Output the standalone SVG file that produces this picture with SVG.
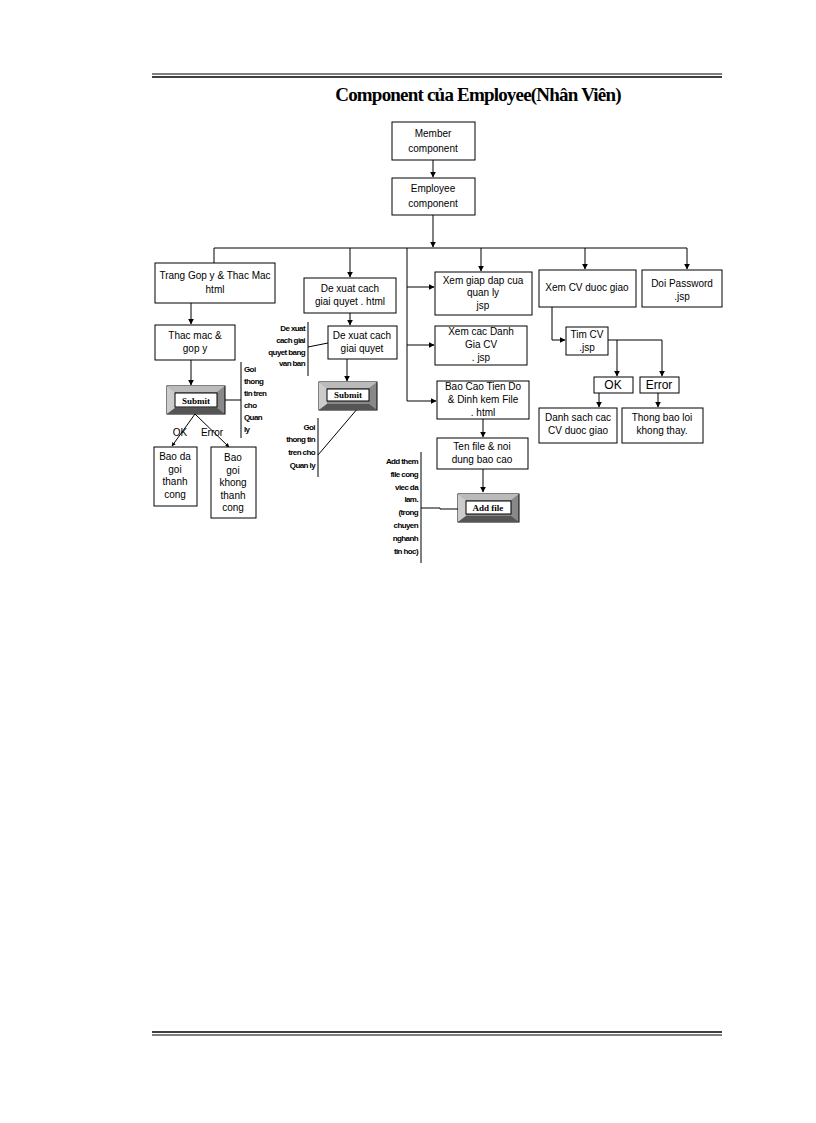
<svg xmlns="http://www.w3.org/2000/svg" width="816" height="1123" viewBox="0 0 816 1123">
<defs>
<marker id="a" viewBox="0 0 10 10" refX="9" refY="5" markerWidth="6" markerHeight="6" orient="auto"><path d="M0,0L10,5L0,10z" fill="#000"/></marker>
<marker id="b" viewBox="0 0 10 10" refX="9" refY="5" markerWidth="4" markerHeight="4" orient="auto"><path d="M0,0L10,5L0,10z" fill="#000"/></marker>
</defs>
<style>
.n rect{fill:#fff;stroke:#000;stroke-width:1}
text{font-family:"Liberation Sans",Arial,sans-serif;font-size:10px;text-anchor:middle;fill:#000}
.s{font-size:8px;font-weight:bold;letter-spacing:-0.6px}
.l{text-anchor:start}
.r{text-anchor:end}
.c line,.c path{stroke:#000;stroke-width:1;fill:none}
.btn text{font-family:"Liberation Serif",serif;font-weight:bold;font-size:9px}
</style>
<rect width="816" height="1123" fill="#fff"/>
<line x1="152" y1="74" x2="722" y2="74" stroke="#000"/><line x1="152" y1="77" x2="722" y2="77" stroke="#000" stroke-width="1.5"/>
<line x1="152" y1="1032" x2="722" y2="1032" stroke="#000" stroke-width="1.5"/><line x1="152" y1="1035" x2="722" y2="1035" stroke="#000"/>
<text x="478" y="101" style="font-family:'Liberation Serif',serif;font-weight:bold;font-size:19px;letter-spacing:-0.8px">Component của Employee(Nhân Viên)</text>
<g class="c">
<line x1="433" y1="160" x2="433" y2="177" marker-end="url(#a)"/>
<line x1="433" y1="215" x2="433" y2="247" stroke-width="2" marker-end="url(#a)"/>
<line x1="214" y1="248" x2="687" y2="248"/>
<line x1="214" y1="248" x2="214" y2="263"/>
<line x1="350" y1="248" x2="350" y2="277" marker-end="url(#a)"/>
<line x1="407" y1="248" x2="407" y2="401"/>
<line x1="481" y1="248" x2="481" y2="271" marker-end="url(#a)"/>
<line x1="585" y1="248" x2="585" y2="269" marker-end="url(#a)"/>
<line x1="687" y1="248" x2="687" y2="269" marker-end="url(#a)"/>
<line x1="407" y1="287" x2="434" y2="287" marker-end="url(#a)"/>
<line x1="407" y1="345" x2="434" y2="345" marker-end="url(#a)"/>
<line x1="407" y1="401" x2="436" y2="401" marker-end="url(#a)"/>
<line x1="483" y1="419" x2="483" y2="437" marker-end="url(#a)"/>
<line x1="483" y1="469" x2="483" y2="492" marker-end="url(#a)"/>
<path d="M421,508H440V509H458"/>
<line x1="421" y1="452" x2="421" y2="563"/>
<path d="M552,307V340H565" marker-end="url(#a)"/>
<path d="M608,340H662V376" marker-end="url(#a)"/>
<line x1="617" y1="340" x2="617" y2="376" marker-end="url(#a)"/>
<line x1="599" y1="393" x2="599" y2="407" marker-end="url(#a)"/>
<line x1="658" y1="393" x2="658" y2="407" marker-end="url(#a)"/>
<line x1="191" y1="303" x2="191" y2="324" marker-end="url(#a)"/>
<line x1="191" y1="360" x2="191" y2="385" marker-end="url(#a)"/>
<line x1="225" y1="400" x2="241" y2="400"/>
<line x1="241" y1="362" x2="241" y2="438"/>
<line x1="195" y1="414" x2="172" y2="446" marker-end="url(#b)"/>
<line x1="195" y1="414" x2="229" y2="447" marker-end="url(#b)"/>
<line x1="350" y1="313" x2="350" y2="325" marker-end="url(#a)"/>
<line x1="308" y1="322" x2="308" y2="376"/>
<line x1="308" y1="347" x2="328" y2="343"/>
<line x1="347" y1="359" x2="347" y2="381" marker-end="url(#a)"/>
<line x1="364" y1="401" x2="318" y2="455"/>
<line x1="318" y1="418" x2="318" y2="477"/>
</g>
<g id="member" class="n"><rect x="392" y="122" width="83" height="38"/><text x="433" y="137">Member</text><text x="433" y="152">component</text></g>
<g id="employee" class="n"><rect x="392" y="178" width="83" height="37"/><text x="433" y="192">Employee</text><text x="433" y="207">component</text></g>
<g id="trang" class="n"><rect x="155" y="263" width="120" height="40"/><text x="215" y="279">Trang Gop y &amp; Thac Mac</text><text x="215" y="293">html</text></g>
<g id="dexuat1" class="n"><rect x="304" y="278" width="92" height="35"/><text x="350" y="292">De xuat cach</text><text x="350" y="305">giai quyet . html</text></g>
<g id="xemgiap" class="n"><rect x="435" y="272" width="97" height="43"/><text x="483" y="284">Xem giap dap cua</text><text x="483" y="296">quan ly</text><text x="483" y="309">jsp</text></g>
<g id="xemcv" class="n"><rect x="539" y="270" width="97" height="37"/><text x="587" y="291">Xem CV duoc giao</text></g>
<g id="doipw" class="n"><rect x="642" y="270" width="80" height="37"/><text x="682" y="287">Doi Password</text><text x="682" y="300">.jsp</text></g>
<g id="xemdanh" class="n"><rect x="435" y="326" width="92" height="39"/><text x="481" y="335">Xem cac Danh</text><text x="481" y="348">Gia CV</text><text x="481" y="361">. jsp</text></g>
<g id="baocao" class="n"><rect x="437" y="381" width="92" height="38"/><text x="483" y="390">Bao Cao Tien  Do</text><text x="483" y="403">&amp; Dinh kem File</text><text x="483" y="416">. html</text></g>
<g id="tenfile" class="n"><rect x="437" y="438" width="91" height="31"/><text x="482" y="450">Ten file &amp; noi</text><text x="482" y="463">dung bao cao</text></g>
<g id="timcv" class="n"><rect x="566" y="327" width="42" height="28"/><text x="587" y="338">Tim CV</text><text x="587" y="351">.jsp</text></g>
<g id="ok" class="n"><rect x="594" y="377" width="39" height="16"/><text x="613" y="389" style="font-size:12px">OK</text></g>
<g id="error" class="n"><rect x="640" y="377" width="39" height="16"/><text x="659" y="389" style="font-size:12px">Error</text></g>
<g id="danhsach" class="n"><rect x="539" y="408" width="78" height="35"/><text x="578" y="421">Danh sach cac</text><text x="578" y="434">CV duoc giao</text></g>
<g id="thongbao" class="n"><rect x="622" y="408" width="81" height="35"/><text x="662" y="421">Thong bao loi</text><text x="662" y="434">khong thay.</text></g>
<g id="thacmac" class="n"><rect x="155" y="325" width="80" height="35"/><text x="195" y="339">Thac mac &amp;</text><text x="195" y="352">gop y</text></g>
<g id="dexuat2" class="n"><rect x="328" y="326" width="69" height="33"/><text x="362" y="339">De xuat cach</text><text x="362" y="352">giai quyet</text></g>
<g id="baoda" class="n"><rect x="154" y="447" width="43" height="59"/><text x="175" y="460">Bao da</text><text x="175" y="473">goi</text><text x="175" y="485">thanh</text><text x="175" y="498">cong</text></g>
<g id="baogoi" class="n"><rect x="211" y="447" width="45" height="71"/><text x="233" y="461">Bao</text><text x="233" y="474">goi</text><text x="233" y="486">khong</text><text x="233" y="499">thanh</text><text x="233" y="511">cong</text></g>
<g id="submit1" class="btn"><rect x="167" y="386" width="58" height="28" fill="#888" stroke="#000"/><path d="M167,386L175,392H217L225,386z" fill="#bbb"/><path d="M167,386L175,392V408L167,414z" fill="#ccc"/><path d="M167,414L175,408H217L225,414z" fill="#555"/><rect x="175" y="393" width="42" height="14" fill="#fff" stroke="#000"/><text x="196" y="404">Submit</text></g>
<g id="submit2" class="btn"><rect x="319" y="382" width="58" height="28" fill="#888" stroke="#000"/><path d="M319,382L327,388H369L377,382z" fill="#bbb"/><path d="M319,382L327,388V404L319,410z" fill="#ccc"/><path d="M319,410L327,404H369L377,410z" fill="#555"/><rect x="327" y="389" width="42" height="12" fill="#fff" stroke="#000"/><text x="348" y="398">Submit</text></g>
<g id="addfile" class="btn"><rect x="458" y="494" width="61" height="28" fill="#888" stroke="#000"/><path d="M458,494L466,500H511L519,494z" fill="#bbb"/><path d="M458,494L466,500V516L458,522z" fill="#ccc"/><path d="M458,522L466,516H511L519,522z" fill="#555"/><rect x="466" y="501" width="45" height="13" fill="#fff" stroke="#000"/><text x="488" y="511">Add file</text></g>
<g id="labels">
<text x="180" y="436" style="font-size:10px">OK</text><text x="212" y="436" style="font-size:10px">Error</text>
<text class="s l" x="244" y="372">Goi</text><text class="s l" x="244" y="384">thong</text><text class="s l" x="244" y="396">tin tren</text><text class="s l" x="244" y="408">cho</text><text class="s l" x="244" y="420">Quan</text><text class="s l" x="244" y="432">ly</text>
<text class="s r" x="305" y="331">De xuat</text><text class="s r" x="305" y="343">cach giai</text><text class="s r" x="305" y="355">quyet bang</text><text class="s r" x="305" y="366">van ban</text>
<text class="s r" x="315" y="430">Goi</text><text class="s r" x="315" y="442">thong tin</text><text class="s r" x="315" y="455">tren cho</text><text class="s r" x="315" y="468">Quan ly</text>
<text class="s r" x="418" y="464">Add them</text><text class="s r" x="418" y="477">file cong</text><text class="s r" x="418" y="490">viec da</text><text class="s r" x="418" y="502">lam.</text><text class="s r" x="418" y="515">(trong</text><text class="s r" x="418" y="528">chuyen</text><text class="s r" x="418" y="541">nghanh</text><text class="s r" x="418" y="554">tin hoc)</text>
</g>
</svg>
